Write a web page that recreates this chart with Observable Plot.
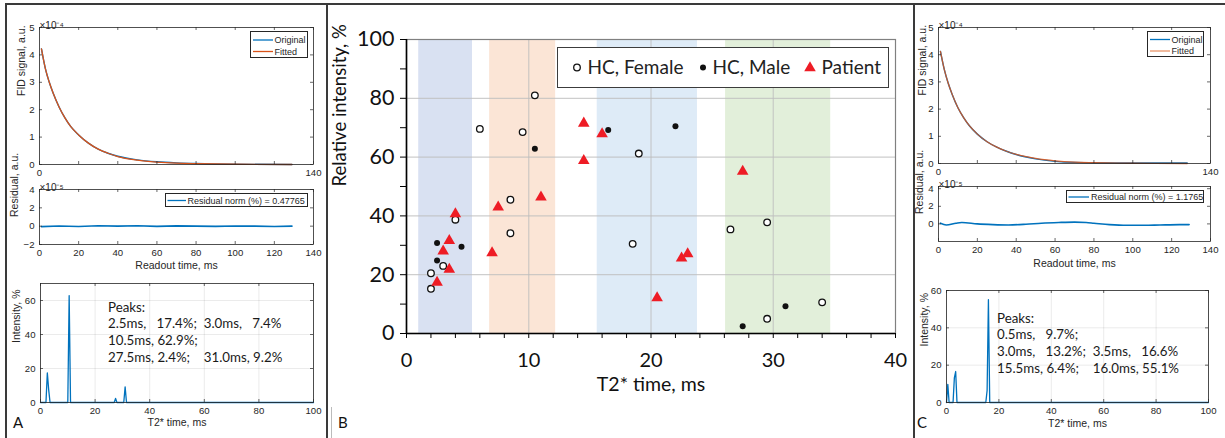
<!DOCTYPE html>
<html><head><meta charset="utf-8">
<script src="https://cdn.jsdelivr.net/npm/d3@7"></script>
<script src="https://cdn.jsdelivr.net/npm/@observablehq/plot@0.6"></script>
<style>
body{margin:0;background:#fff;}
#fig{position:relative;width:1225px;height:438px;overflow:hidden;background:#fff;}
.mleg{position:absolute;background:#fff;border:0.8px solid #262626;box-sizing:border-box;font:9px "Liberation Sans",Arial,sans-serif;color:#262626;}
.peaks{position:absolute;font:13.3px Lato,sans-serif;color:#1a1a1a;white-space:pre;line-height:16.8px;}
.plab{position:absolute;font:15px Lato,sans-serif;color:#111;}
</style></head><body><div id="fig"></div><script>
// ---------------- Panel B data ----------------
const femaleT2  = [2.0, 2.0, 3.0, 4.0, 6.0, 9.5, 10.5, 8.5, 8.5, 19.0, 18.5, 26.5, 29.5, 29.5, 34.0];
const femaleInt = [20.5, 15.2, 23.0, 38.7, 69.6, 68.5, 81.0, 45.5, 34.1, 61.2, 30.5, 35.4, 37.8, 5.0, 10.6];
const maleT2    = [2.5, 2.5, 4.5, 10.5, 16.5, 22.0, 27.5, 31.0];
const maleInt   = [30.8, 24.8, 29.5, 62.8, 69.2, 70.5, 2.5, 9.3];
const patientT2  = [4.0, 3.5, 3.0, 3.5, 2.5, 7.0, 7.5, 11.0, 14.5, 14.5, 16.0, 27.5, 20.5, 22.5, 23.0];
const patientInt = [40.7, 31.6, 28.0, 21.8, 17.4, 27.4, 43.0, 46.4, 71.5, 58.8, 67.9, 55.1, 12.1, 25.6, 27.1];
const bandStart = [1.0, 6.8, 15.6, 26.1];
const bandEnd   = [5.4, 12.2, 23.8, 34.7];
const xTickLabelsB = [0, 10, 20, 30, 40];
const yTickLabelsB = [0, 20, 40, 60, 80, 100];
const legendLabelsB = ["HC, Female", "HC, Male", "Patient"];

// ---------------- Panel A data ----------------
const readoutA  = [1, 3, 5, 7, 10, 13, 16, 20, 25, 30, 35, 40, 50, 60, 70, 80, 100, 129];
const fidOrigA  = [4.22, 3.5, 3.0, 2.6, 2.1, 1.7, 1.38, 1.08, 0.78, 0.56, 0.41, 0.30, 0.17, 0.10, 0.06, 0.035, 0.01, 0.0];
const fidFitA   = [4.22, 3.5, 3.0, 2.6, 2.1, 1.7, 1.38, 1.08, 0.78, 0.56, 0.41, 0.29, 0.16, 0.09, 0.05, 0.03, 0.01, 0.0];
const residTA   = [1, 10, 20, 30, 40, 50, 60, 70, 80, 90, 100, 110, 120, 129];
const residA    = [-0.05, 0.02, -0.03, 0.05, 0.0, 0.04, -0.02, 0.03, 0.0, -0.02, 0.02, 0.0, -0.03, 0.0];
const residNormA = "Residual norm (%) = 0.47765";
const specTA = [0, 2.0, 2.5, 3.0, 3.5, 10.0, 10.5, 11.0, 27.0, 27.5, 28.0, 30.5, 31.0, 31.5, 100];
const specIA = [0, 0, 17.4, 7.4, 0, 0, 62.9, 0, 0, 2.4, 0, 0, 9.2, 0, 0];
const peaksA = "Peaks:\n2.5ms,   17.4%;  3.0ms,   7.4%\n10.5ms, 62.9%;\n27.5ms, 2.4%;    31.0ms, 9.2%";

// ---------------- Panel C data ----------------
const readoutC  = [1, 3, 5, 7, 10, 13, 16, 20, 25, 30, 35, 40, 50, 60, 70, 80, 100, 128];
const fidOrigC  = [4.12, 3.45, 2.95, 2.55, 2.05, 1.68, 1.38, 1.08, 0.8, 0.6, 0.45, 0.33, 0.17, 0.08, 0.04, 0.03, 0.02, 0.02];
const fidFitC   = [4.12, 3.45, 2.95, 2.55, 2.05, 1.68, 1.38, 1.08, 0.8, 0.6, 0.45, 0.34, 0.19, 0.10, 0.05, 0.03, 0.01, 0.0];
const residTC   = [1, 4, 9, 12, 20, 28, 36, 45, 53, 62, 70, 76, 80, 88, 97, 106, 114, 124, 129];
const residC    = [0.08, -0.12, 0.08, 0.16, 0.0, -0.08, -0.12, -0.04, 0.08, 0.16, 0.2, 0.16, 0.08, -0.08, -0.16, -0.16, -0.12, -0.08, -0.08];
const residNormC = "Residual norm (%) = 1.1765";
const specTC = [0, 0.5, 1.0, 2.5, 3.0, 3.5, 4.0, 15.0, 15.5, 16.0, 16.5, 100];
const specIC = [0, 9.7, 0, 0, 13.2, 16.6, 0, 0, 6.4, 55.1, 0, 0];
const peaksC = "Peaks:\n0.5ms,   9.7%;\n3.0ms,   13.2%;  3.5ms,   16.6%\n15.5ms, 6.4%;    16.0ms, 55.1%";

// ---------------- helpers ----------------
const MBLUE = "#0072BD", MORANGE = "#D95319", AX = "#262626";
const fig = document.getElementById("fig");
function place(el, left, top) {
  el.style.position = "absolute"; el.style.left = left + "px"; el.style.top = top + "px";
  fig.appendChild(el); return el;
}
function box(left, top, w, h, css, cls) {
  const d = document.createElement("div");
  if (cls) d.className = cls;
  d.style.cssText = `position:absolute;left:${left}px;top:${top}px;` + (w != null ? `width:${w}px;` : "") + (h != null ? `height:${h}px;` : "") + (css || "");
  fig.appendChild(d); return d;
}
const pts = (xs, ys) => xs.map((x, i) => ({x, y: ys[i]}));

function mPanel(o) {
  const iw = o.width - o.ml - o.mr, ih = o.height - o.mt - o.mb, t = 3;
  const ts = {stroke: AX, strokeWidth: 0.7};
  const marks = [];
  if (o.grid) marks.push(
    Plot.gridX(o.xTicks, {stroke: AX, strokeOpacity: 0.12, strokeWidth: 0.8}),
    Plot.gridY(o.yTicks, {stroke: AX, strokeOpacity: 0.12, strokeWidth: 0.8}));
  marks.push(...o.marks);
  marks.push(
    Plot.frame({stroke: AX, strokeWidth: 0.8}),
    Plot.tickX(o.xTicks, {x: d => d, insetTop: ih - t, ...ts}),
    Plot.tickX(o.xTicks, {x: d => d, insetBottom: ih - t, ...ts}),
    Plot.tickY(o.yTicks, {y: d => d, insetRight: iw - t, ...ts}),
    Plot.tickY(o.yTicks, {y: d => d, insetLeft: iw - t, ...ts}),
    Plot.axisY(o.yLabels, {tickSize: 0, tickPadding: 5, fontSize: 9.6, label: null}),
    Plot.axisX(o.xLabels, {tickSize: 0, tickPadding: o.xPad ?? 5, fontSize: 9.6, label: null}),
    Plot.text([o.yTitle], {text: d => d, frameAnchor: "left", rotate: -90, dx: o.yTitleDx, fontSize: 10.5}));
  if (o.xTitle) marks.push(Plot.text([o.xTitle], {text: d => d, frameAnchor: "bottom", dy: o.xTitleDy, fontSize: 10.5}));
  if (o.exp) marks.push(Plot.text([o.exp], {text: d => d, frameAnchor: "top-left", textAnchor: "start", dy: -6, fontSize: 10}));
  const svg = Plot.plot({
    width: o.width, height: o.height,
    marginLeft: o.ml, marginRight: o.mr, marginTop: o.mt, marginBottom: o.mb,
    x: {domain: o.xDomain}, y: {domain: o.yDomain},
    style: {fontFamily: '"Liberation Sans", Arial, sans-serif', fontSize: "9.6px", color: AX, background: "transparent", overflow: "visible"},
    marks
  });
  place(svg, o.left, o.top);
}
function mLegend(left, top, w, h, items, lx0, lx1, tx) {
  const d = box(left, top, w, h, "", "mleg");
  items.forEach(it => {
    const s = document.createElementNS("http://www.w3.org/2000/svg", "svg");
    s.setAttribute("width", w); s.setAttribute("height", h);
    s.style.cssText = "position:absolute;left:0;top:0;";
    s.innerHTML = `<line x1="${lx0}" x2="${lx1}" y1="${it.cy}" y2="${it.cy}" stroke="${it.color}" stroke-width="1.3"/>`;
    d.appendChild(s);
    const tdiv = document.createElement("div");
    tdiv.textContent = it.label;
    tdiv.style.cssText = `position:absolute;left:${tx}px;top:${it.cy - 6}px;line-height:12px;white-space:pre;`;
    d.appendChild(tdiv);
  });
}

const tA = d3.range(0, 141, 20);

// ---------------- Panel A ----------------
mPanel({left: 0, top: 0, width: 330, height: 180, ml: 39, mr: 17, mt: 27, mb: 16,
  xDomain: [0, 140], yDomain: [0, 5], xTicks: tA, yTicks: [0, 1, 2, 3, 4, 5],
  xLabels: [0, 140], yLabels: [0, 1, 2, 3, 4, 5], yTitle: "FID signal, a.u.", yTitleDx: -18, exp: "×10⁻⁴",
  marks: [
    Plot.line(pts(readoutA, fidOrigA), {x: "x", y: "y", stroke: MBLUE, strokeWidth: 1.4, curve: "monotone-x"}),
    Plot.line(pts(readoutA, fidFitA), {x: "x", y: "y", stroke: MORANGE, strokeWidth: 1.3, curve: "monotone-x"})
  ]});
mPanel({left: 0, top: 175, width: 330, height: 105, ml: 39, mr: 17, mt: 14, mb: 36,
  xDomain: [0, 140], yDomain: [-2, 4], xTicks: tA, yTicks: [-2, 0, 2, 4],
  xLabels: tA, yLabels: [-2, 0, 2, 4], yTitle: "Residual, a.u.", yTitleDx: -25, exp: "×10⁻⁵",
  xTitle: "Readout time, ms", xTitleDy: 24,
  marks: [Plot.line(pts(residTA, residA), {x: "x", y: "y", stroke: MBLUE, strokeWidth: 1.6})]});
mPanel({left: 0, top: 275, width: 330, height: 163, ml: 40, mr: 17, mt: 8, mb: 36,
  xDomain: [0, 100], yDomain: [0, 70], xTicks: d3.range(0, 101, 20), yTicks: [0, 20, 40, 60], grid: true,
  xLabels: d3.range(0, 101, 20), yLabels: [0, 20, 40, 60], yTitle: "Intensity, %", yTitleDx: -24,
  xTitle: "T2* time, ms", xTitleDy: 23,
  marks: [Plot.line(pts(specTA, specIA), {x: "x", y: "y", stroke: MBLUE, strokeWidth: 1.3})]});
mLegend(250, 31, 58, 27, [{label: "Original", color: MBLUE, cy: 8}, {label: "Fitted", color: MORANGE, cy: 19.5}], 2, 22, 23.5);
mLegend(165, 193, 143, 13.5, [{label: residNormA, color: MBLUE, cy: 6.5}], 1.5, 20, 21.5);
box(108, 298.5, null, null, "", "peaks").textContent = peaksA;

// ---------------- Panel C ----------------
mPanel({left: 900, top: 0, width: 325, height: 180, ml: 38, mr: 15, mt: 27, mb: 17,
  xDomain: [0, 140], yDomain: [0, 5], xTicks: tA, yTicks: [0, 1, 2, 3, 4, 5],
  xLabels: [0, 140], yLabels: [0, 1, 2, 3, 4, 5], yTitle: "FID signal, a.u.", yTitleDx: -16, exp: "×10⁻⁴",
  marks: [
    Plot.line(pts(readoutC, fidOrigC), {x: "x", y: "y", stroke: MBLUE, strokeWidth: 1.4, curve: "monotone-x"}),
    Plot.line(pts(readoutC, fidFitC), {x: "x", y: "y", stroke: MORANGE, strokeWidth: 1.3, strokeOpacity: 0.85, curve: "monotone-x"})
  ]});
mPanel({left: 900, top: 175, width: 325, height: 105, ml: 38, mr: 15, mt: 11, mb: 39,
  xDomain: [0, 140], yDomain: [-2, 4.25], xTicks: tA, yTicks: [0, 2, 4],
  xLabels: tA, yLabels: [0, 2, 4], yTitle: "Residual, a.u.", yTitleDx: -19, exp: "×10⁻⁵",
  xTitle: "Readout time, ms", xTitleDy: 25, xPad: 5,
  marks: [Plot.line(pts(residTC, residC), {x: "x", y: "y", stroke: MBLUE, strokeWidth: 1.6, curve: "monotone-x"})]});
mPanel({left: 900, top: 275, width: 325, height: 163, ml: 46, mr: 17, mt: 15, mb: 36,
  xDomain: [0, 100], yDomain: [0, 60], xTicks: d3.range(0, 101, 20), yTicks: [0, 20, 40, 60], grid: true,
  xLabels: d3.range(0, 101, 20), yLabels: [0, 20, 40, 60], yTitle: "Intensity, %", yTitleDx: -22,
  xTitle: "T2* time, ms", xTitleDy: 24, xPad: 5,
  marks: [Plot.line(pts(specTC, specIC), {x: "x", y: "y", stroke: MBLUE, strokeWidth: 1.3})]});
mLegend(1147, 31, 57, 26, [{label: "Original", color: MBLUE, cy: 7.5}, {label: "Fitted", color: "#E8956A", cy: 19}], 2, 22, 23.5);
mLegend(1066, 190, 138, 12.5, [{label: residNormC, color: MBLUE, cy: 6}], 1.5, 22, 24);
box(997, 309.5, null, null, "", "peaks").textContent = peaksC;

// ---------------- Panel B ----------------
const bandColors = ["#d9e1f2", "#fbe5d6", "#deebf7", "#e2efda"];
const bands = bandStart.map((s, i) => ({s, e: bandEnd[i], i}));
const svgB = Plot.plot({
  width: 580, height: 420, marginLeft: 76, marginRight: 15, marginTop: 39, marginBottom: 87,
  x: {domain: [0, 40]}, y: {domain: [0, 100]},
  style: {fontFamily: "Lato, sans-serif", fontSize: "20px", color: "#111", background: "transparent", overflow: "visible"},
  marks: [
    ...bands.map(b => Plot.rect([b], {x1: "s", x2: "e", fill: bandColors[b.i]})),
    Plot.gridY([20, 40, 60, 80], {stroke: "#bdbdbd", strokeOpacity: 0.75, strokeWidth: 1.2}),
    Plot.gridX([10, 20, 30], {stroke: "#bdbdbd", strokeOpacity: 0.75, strokeWidth: 1.2}),
    Plot.frame({stroke: "#808080", strokeWidth: 1.2}),
    Plot.ruleY([0], {stroke: "#000", strokeWidth: 1.6}),
    Plot.ruleX([0], {stroke: "#000", strokeWidth: 1.6}),
    Plot.axisY(d3.range(0, 101, 10), {tickSize: 6, tickFormat: () => "", label: null, stroke: "#000"}),
    Plot.axisY(yTickLabelsB, {tickSize: 0, tickPadding: 12, label: null, fontSize: 21.5}),
    Plot.axisX(d3.range(0, 41, 2), {tickSize: 5, tickFormat: () => "", label: null, stroke: "#000"}),
    Plot.axisX(xTickLabelsB, {tickSize: 0, tickPadding: 19, label: null, fontSize: 20}),
    Plot.text(["T2* time, ms"], {text: d => d, frameAnchor: "bottom", dy: 57, fontSize: 19.5}),
    Plot.text(["Relative intensity, %"], {text: d => d, frameAnchor: "left", rotate: -90, dx: -66, fontSize: 18.5}),
    Plot.dot(pts(femaleT2, femaleInt), {x: "x", y: "y", r: 3.3, stroke: "#111", strokeWidth: 1.3, fill: "#fff"}),
    Plot.dot(pts(maleT2, maleInt), {x: "x", y: "y", r: 3.0, fill: "#111", stroke: "none"}),
    Plot.dot(pts(patientT2, patientInt), {x: "x", y: "y", r: 4.3, symbol: "triangle", fill: "#ee1c25", stroke: "none"})
  ]
});
place(svgB, 330, 0);

// legend B
const lg = box(557, 47, 332, 41, "border:1.5px solid #3c3c3c;background:#fff;box-sizing:border-box;");
const lsvg = document.createElementNS("http://www.w3.org/2000/svg", "svg");
lsvg.setAttribute("width", 332); lsvg.setAttribute("height", 41);
lsvg.style.cssText = "position:absolute;left:-1.5px;top:-1.5px;";
lsvg.innerHTML = `<circle cx="20" cy="20.5" r="3.3" fill="#fff" stroke="#111" stroke-width="1.3"/>
<circle cx="146" cy="20.5" r="3.0" fill="#111"/>
<path d="${d3.symbol(d3.symbolTriangle, Math.PI * 4.3 * 4.3)()}" transform="translate(253,21)" fill="#ee1c25"/>`;
lg.appendChild(lsvg);
[[31, 0], [156, 1], [265, 2]].forEach(([x, k]) => {
  const t = document.createElement("div");
  t.textContent = legendLabelsB[k];
  t.style.cssText = `position:absolute;left:${x - 1.5}px;top:7px;font:19px Lato,sans-serif;color:#222;line-height:24px;white-space:pre;`;
  lg.appendChild(t);
});

// ---------------- frame lines & panel letters ----------------
box(5, 3, 1220, 1.5, "background:#3a3a3a;");
box(5, 3, 1.5, 435, "background:#3a3a3a;");
box(326, 3, 2, 435, "background:#3a3a3a;");
box(331, 407, 1, 31, "background:#bbb;");
box(913, 3, 2, 435, "background:#3a3a3a;");
box(13, 413, null, null, "", "plab").textContent = "A";
box(338, 413, null, null, "", "plab").textContent = "B";
box(917, 413, null, null, "", "plab").textContent = "C";
</script></body></html>
